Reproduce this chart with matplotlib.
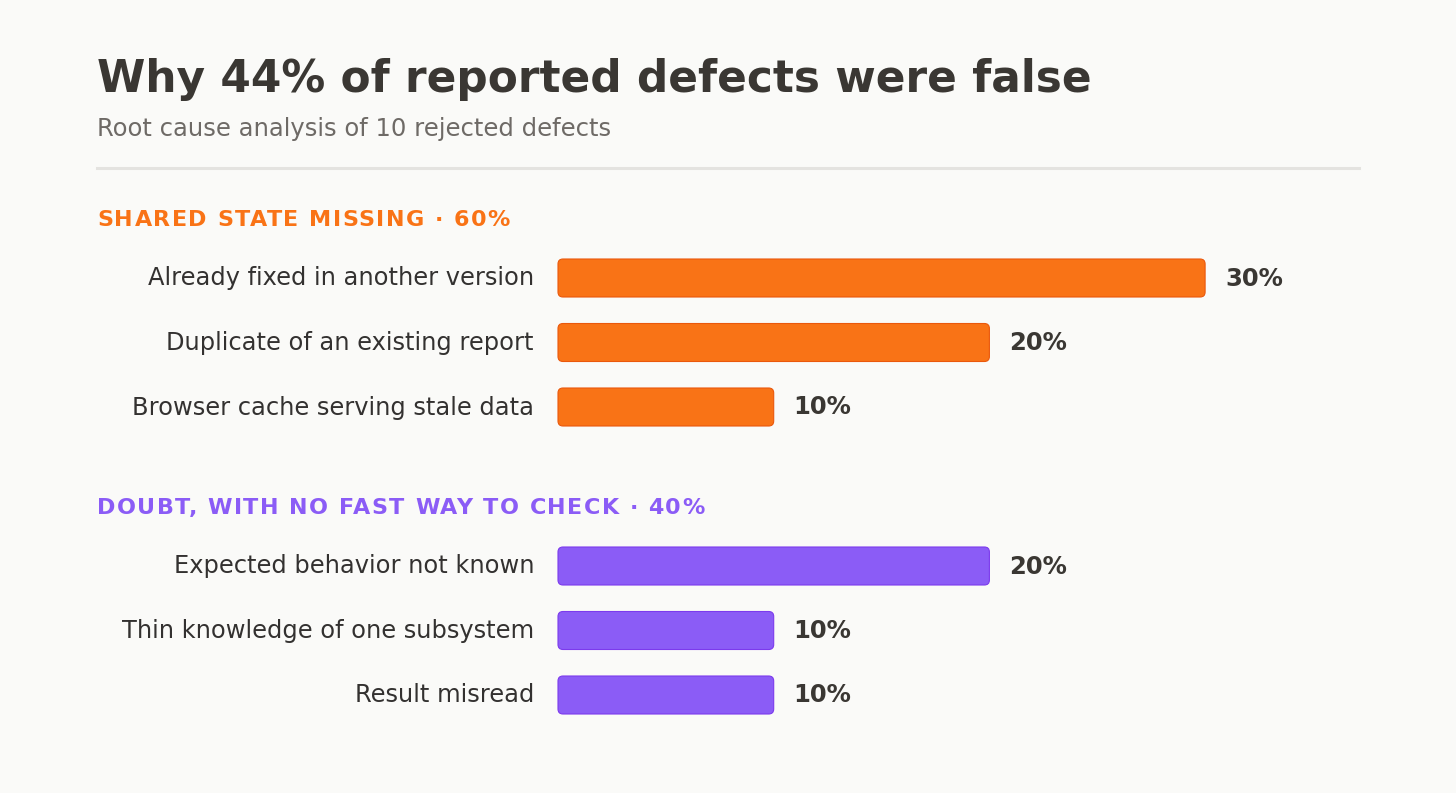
import matplotlib
matplotlib.use("Agg")
import matplotlib.pyplot as plt
from matplotlib.patches import FancyBboxPatch

plt.rcParams["font.family"] = ["DejaVu Sans"]

# data
groups = ["SHARED STATE MISSING", "DOUBT, WITH NO FAST WAY TO CHECK"]
group_shares = [60, 40]
group_colors = ["#F97316", "#8B5CF6"]
group_edges = ["#EA580C", "#7C3AED"]
labels = [
    ["Already fixed in another version",
     "Duplicate of an existing report",
     "Browser cache serving stale data"],
    ["Expected behavior not known",
     "Thin knowledge of one subsystem",
     "Result misread"],
]
values = [
    [30, 20, 10],
    [20, 10, 10],
]

W, H = 1456, 793
BG = "#FAFAF8"
DARK = "#3A3733"

fig = plt.figure(figsize=(W / 100, H / 100), dpi=100, facecolor=BG)
ax = fig.add_axes([0, 0, 1, 1])
ax.set_facecolor(BG)
ax.axis("off")
renderer = fig.canvas.get_renderer()

# x in percent, y in pixels from top
x0_px, px_per_pct = 558, 21.57
ax.set_xlim(-x0_px / px_per_pct, (W - x0_px) / px_per_pct)
ax.set_ylim(H, 0)


def fx(px):
    return px / W


def fy(py):
    return 1 - py / H


def text_width(s, **kw):
    t = fig.text(0, 0, s, **kw)
    w = t.get_window_extent(renderer).width if s.strip() else 0
    t.remove()
    return w


def spaced_text(x_px, y_px, s, spacing, **kw):
    """Draw s letter by letter with extra tracking (px) between glyphs"""
    for i, c in enumerate(s):
        if c == " ":
            continue
        off = text_width(s[:i + 1], **kw) - text_width(c, **kw)
        fig.text(fx(x_px + off + i * spacing), fy(y_px), c,
                 va="baseline", ha="left", **kw)


fig.text(fx(97), fy(92), "Why 44% of reported defects were false",
         fontsize=31.6, fontweight="bold", color=DARK, va="baseline")
fig.text(fx(97), fy(136), "Root cause analysis of 10 rejected defects",
         fontsize=17.5, color="#6E6A66", va="baseline")
fig.add_artist(plt.Line2D([fx(97), fx(1359)], [fy(168), fy(168)],
                          color="#E4E3E0", lw=2.2))

bar_h = 38
row_gap = 64.5
header_y = [226, 514]
lbl_x = -24 / px_per_pct
val_dx = 20 / px_per_pct
radius = 5 / px_per_pct

for gi, name in enumerate(groups):
    color = group_colors[gi]
    spaced_text(97, header_y[gi], f"{name} · {group_shares[gi]}%", 1.45,
                fontsize=16, fontweight="bold", color=color)
    for ri, (lab, val) in enumerate(zip(labels[gi], values[gi])):
        yc = header_y[gi] + 52 + ri * row_gap
        bar = FancyBboxPatch((0, yc - bar_h / 2), val, bar_h,
                             boxstyle=f"round,pad=0,rounding_size={radius}",
                             mutation_aspect=px_per_pct,
                             facecolor=color, edgecolor=group_edges[gi], lw=0.8)
        ax.add_patch(bar)
        ax.text(lbl_x, yc + 7.5, lab, ha="right", va="baseline",
                fontsize=17.4, color="#333130")
        ax.text(val + val_dx, yc + 7.5, f"{val}%", ha="left", va="baseline",
                fontsize=17.5, fontweight="bold", color=DARK)

fig.savefig("out.png", dpi=100, facecolor=BG)
